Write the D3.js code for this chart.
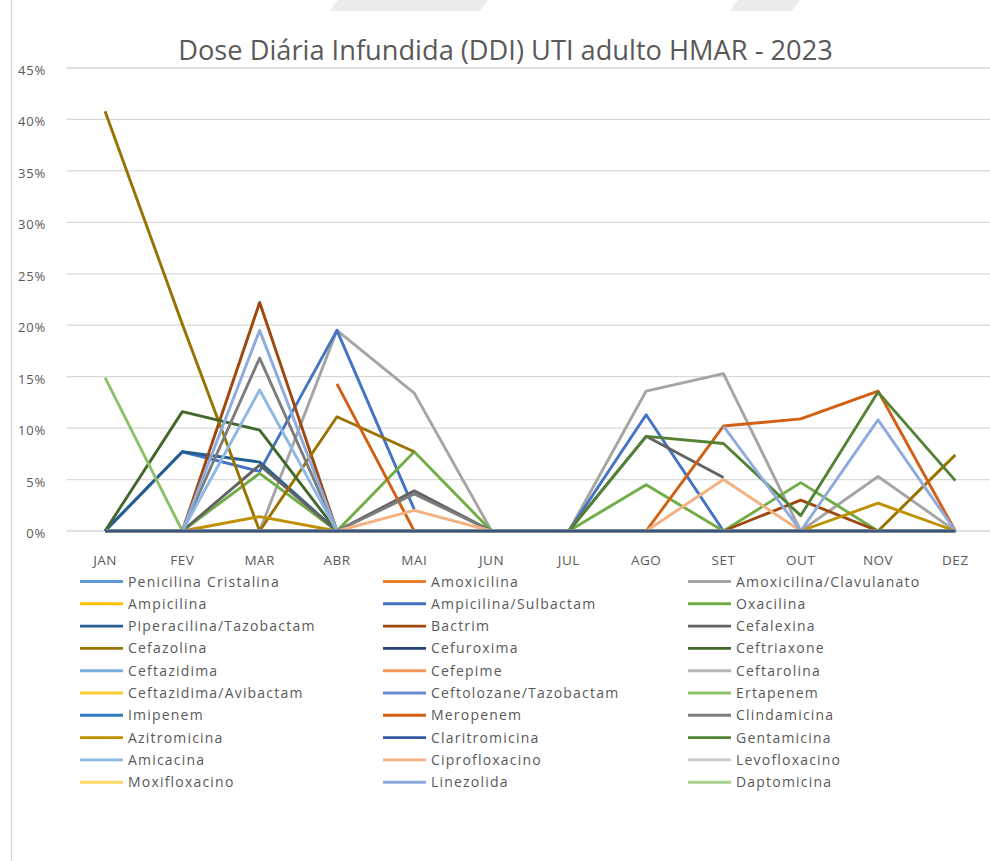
<!DOCTYPE html>
<html>
<head>
<meta charset="utf-8">
<script src="https://cdn.jsdelivr.net/npm/d3@7"></script>
<style>
  body { margin: 0; background: #fff; }
  text { font-family: "Open Sans", "Noto Sans", sans-serif; fill: #595959; }
</style>
</head>
<body>
<div id="plot-container"></div>
<script>
// Categories and ticks
const months = ["JAN", "FEV", "MAR", "ABR", "MAI", "JUN", "JUL", "AGO", "SET", "OUT", "NOV", "DEZ"];
const yTicks = [0, 5, 10, 15, 20, 25, 30, 35, 40, 45];

const drugs = [
  "Penicilina Cristalina", "Amoxicilina", "Amoxicilina/Clavulanato",
  "Ampicilina", "Ampicilina/Sulbactam", "Oxacilina",
  "Piperacilina/Tazobactam", "Bactrim", "Cefalexina",
  "Cefazolina", "Cefuroxima", "Ceftriaxone",
  "Ceftazidima", "Cefepime", "Ceftarolina",
  "Ceftazidima/Avibactam", "Ceftolozane/Tazobactam", "Ertapenem",
  "Imipenem", "Meropenem", "Clindamicina",
  "Azitromicina", "Claritromicina", "Gentamicina",
  "Amicacina", "Ciprofloxacino", "Levofloxacino",
  "Moxifloxacino", "Linezolida", "Daptomicina"
];

const drugColors = [
  "#5B9BD5", "#ED7D31", "#A5A5A5",
  "#FFC000", "#4472C4", "#70AD47",
  "#255E91", "#9E480E", "#636363",
  "#997300", "#264478", "#43682B",
  "#7CAFDD", "#F1975A", "#B7B7B7",
  "#FFCD33", "#698ED0", "#8CC168",
  "#327DC2", "#D26012", "#7C7C7C",
  "#BF9000", "#335AA1", "#548235",
  "#8DB8E2", "#F4B183", "#C9C9C9",
  "#FFD966", "#8FAADC", "#A9D18E"
];

// DDI in %, one row per drug (null = no data that month)
const Z = [0, 0, 0, 0, 0, 0, 0, 0, 0, 0, 0, 0];
const ddi = [
  Z,                                                                    // Penicilina Cristalina
  Z,                                                                    // Amoxicilina
  [null, null, 0, 19.5, 13.4, 0, 0, 13.6, 15.3, 0, 5.3, 0],             // Amoxicilina/Clavulanato
  Z,                                                                    // Ampicilina
  [0, 7.7, 5.8, 19.5, 2.1, null, 0, 11.3, 0, null, null, null],         // Ampicilina/Sulbactam
  [null, 0, 5.6, 0, 7.7, 0, 0, 4.5, 0, 4.7, 0, null],                   // Oxacilina
  [0, 7.7, 6.7, 0, null, null, null, null, null, null, null, null],     // Piperacilina/Tazobactam
  [null, 0, 22.2, 0, null, null, null, null, 0, 3.0, 0, null],          // Bactrim
  [null, 0, 6.4, 0, 3.9, 0, 0, 9.2, 5.2, null, null, null],             // Cefalexina
  [40.8, 20.1, 0, 11.1, 7.7, null, null, null, null, null, 0, 7.4],     // Cefazolina
  Z,                                                                    // Cefuroxima
  [0, 11.6, 9.8, 0, null, null, null, null, null, null, null, null],    // Ceftriaxone
  Z,                                                                    // Ceftazidima
  Z,                                                                    // Cefepime
  Z,                                                                    // Ceftarolina
  Z,                                                                    // Ceftazidima/Avibactam
  Z,                                                                    // Ceftolozane/Tazobactam
  [14.9, 0, null, null, null, null, null, null, null, null, null, null],// Ertapenem
  Z,                                                                    // Imipenem
  [null, null, null, 14.3, 0, null, null, 0, 10.2, 10.9, 13.6, 0],      // Meropenem
  [null, 0, 16.8, 0, 3.6, 0, null, null, null, null, null, null],       // Clindamicina
  [null, 0, 1.4, 0, null, null, null, null, null, 0, 2.7, 0],           // Azitromicina
  Z,                                                                    // Claritromicina
  [null, null, null, null, null, null, 0, 9.2, 8.5, 1.5, 13.5, 4.9],    // Gentamicina
  [null, 0, 13.7, 0, null, null, null, null, null, null, null, null],   // Amicacina
  [null, null, null, 0, 2.0, 0, null, 0, 5.0, 0, null, null],           // Ciprofloxacino
  Z,                                                                    // Levofloxacino
  Z,                                                                    // Moxifloxacino
  [null, 0, 19.5, 0, null, null, null, null, 10.2, 0, 10.8, 0],         // Linezolida
  Z                                                                     // Daptomicina
];

const W = 990, H = 861;
const plot = { left: 66.4, right: 994, top: 68, bottom: 531 };

const svg = d3.select("#plot-container")
  .append("svg")
  .attr("width", W)
  .attr("height", H);

// faint background shapes at top and left border
svg.append("polygon").attr("points", "338,0 488,0 480,11 330,11").attr("fill", "#ececec");
svg.append("polygon").attr("points", "738,0 800,0 792,11 730,11").attr("fill", "#ececec");
svg.append("line")
  .attr("x1", 11.5).attr("x2", 11.5).attr("y1", 0).attr("y2", H)
  .attr("stroke", "#d9d9d9").attr("stroke-width", 1.2);

const x = d3.scalePoint().domain(months).range([plot.left, plot.right]).padding(0.5);
const y = d3.scaleLinear().domain([0, 45]).range([plot.bottom, plot.top]);

// Title
const title = svg.append("text")
  .attr("x", 505.5)
  .attr("y", 60)
  .attr("text-anchor", "middle")
  .style("font-size", "24px")
  .text("Dose Diária Infundida (DDI) UTI adulto HMAR - 2023");
const tw = title.node().getComputedTextLength();
title.style("font-size", (24 * 655 / tw) + "px");

// Gridlines
svg.append("g")
  .selectAll("line")
  .data(yTicks)
  .enter()
  .append("line")
  .attr("x1", plot.left)
  .attr("x2", W)
  .attr("y1", d => y(d))
  .attr("y2", d => y(d))
  .attr("stroke", "#d9d9d9")
  .attr("stroke-width", 1.3);

// Y tick labels
svg.append("g")
  .selectAll("text")
  .data(yTicks)
  .enter()
  .append("text")
  .attr("x", 46)
  .attr("y", d => y(d) + 7)
  .attr("text-anchor", "end")
  .style("font-size", "13px")
  .style("letter-spacing", "0.8px")
  .text(d => d + "%");

// X labels
svg.append("g")
  .selectAll("text")
  .data(months)
  .enter()
  .append("text")
  .attr("x", d => x(d))
  .attr("y", 565)
  .attr("text-anchor", "middle")
  .style("font-size", "13.5px")
  .style("letter-spacing", "0.5px")
  .text(d => d);

// Lines: drugs with data first, all-zero drugs after, the dark blue zero line on top
const line = d3.line()
  .defined(d => d != null)
  .x((d, i) => x(months[i]))
  .y(d => y(d));

const idx = drugs.map((d, i) => i);
const isZero = i => ddi[i].every(v => v === 0);
const drawOrder = idx.filter(i => !isZero(i))
  .concat(idx.filter(i => isZero(i) && drugs[i] !== "Cefuroxima"))
  .concat(idx.filter(i => drugs[i] === "Cefuroxima"));

svg.append("g")
  .selectAll("path")
  .data(drawOrder)
  .enter()
  .append("path")
  .attr("d", i => line(ddi[i]))
  .attr("fill", "none")
  .attr("stroke", i => drugs[i] === "Cefuroxima" ? "#3f5482" : drugColors[i])
  .attr("stroke-width", 2.9)
  .attr("stroke-linejoin", "round");

// Legend, 3 columns
const legendCols = [80, 383, 688];
const legend = svg.append("g")
  .selectAll("g")
  .data(drugs)
  .enter()
  .append("g")
  .attr("transform", (d, i) => `translate(${legendCols[i % 3]},${581.5 + Math.floor(i / 3) * 22.3})`);

legend.append("line")
  .attr("x1", 0).attr("x2", 43)
  .attr("y1", 0).attr("y2", 0)
  .attr("stroke", (d, i) => drugColors[i])
  .attr("stroke-width", 2.9);

legend.append("text")
  .attr("x", 48)
  .attr("y", 5)
  .style("font-size", "14px")
  .style("letter-spacing", "1.2px")
  .text(d => d);
</script>
</body>
</html>
